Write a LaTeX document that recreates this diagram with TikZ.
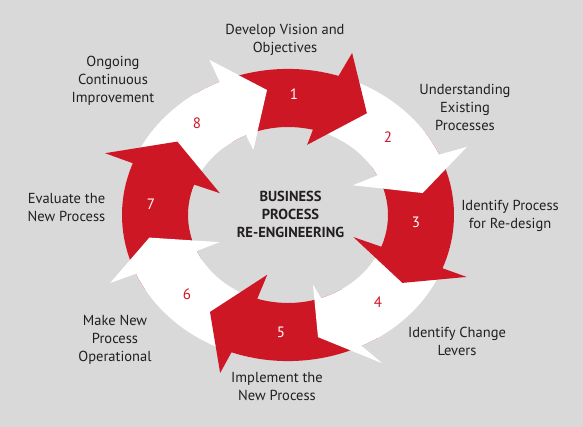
\documentclass[tikz,border=0pt]{standalone}
\usepackage{fontspec}
\setmainfont{PT Sans}
\definecolor{bprred}{RGB}{206,23,37}
\definecolor{bprgray}{RGB}{217,217,217}
\definecolor{bprtext}{RGB}{35,31,32}

\begin{document}
\begin{tikzpicture}[x=1pt, y=1pt,
    steplabel/.style={align=center, font=\fontsize{14.5}{18}\selectfont, text=bprtext, inner sep=0pt},
    stepnum/.style={font=\fontsize{15}{18}\selectfont, inner sep=0pt},
    title/.style={align=center, font=\fontsize{14.5}{18}\selectfont\bfseries, text=bprtext, inner sep=0pt}
]
\fill[bprgray] (-288,-212) rectangle (295,215);
\useasboundingbox (-288,-212) rectangle (295,215);

% ring of arrows, squeezed vertically; drawn 8 down to 1 so each head lies on the next tail
\begin{scope}[yscale=0.88]
\foreach \k/\ao/\ro/\ai/\ri/\at/\rt in {
    8/114/192.6/115/82/98.4/143.6,
    7/159/196/160/72.5/143/138.6,
    6/-156.5/194/-155.7/75/-169.5/141,
    5/-110.7/192/-107/71/-125.3/135,
    4/-60.8/193/-72.5/83/-77.8/142,
    3/-21.5/192/-21/70/-34/138,
    2/23.4/195/27.6/73/10.5/137,
    1/70.8/195/76.5/82/55.7/140} {
  \pgfmathsetmacro{\co}{\ao+(\ro-166)/(\ro-\ri)*(\ai-\ao)}
  \pgfmathsetmacro{\ci}{\ao+(\ro-100)/(\ro-\ri)*(\ai-\ao)}
  \pgfmathsetmacro{\tl}{\at+68}
  \pgfmathtruncatemacro{\odd}{mod(\k,2)}
  \ifnum\odd=1 \def\col{bprred}\else\def\col{white}\fi
  \fill[\col] (\tl:166) arc[start angle=\tl, end angle=\co, radius=166]
    -- (\ao:\ro) -- (\at:\rt) -- (\ai:\ri)
    -- (\ci:100) arc[start angle=\ci, end angle=\tl, radius=100] -- cycle;
}
% front part of arrow 8 again, over the tail of arrow 1
\fill[white] (130:166) arc[start angle=130, end angle=114.2, radius=166]
  -- (114:192.6) -- (98.4:143.6) -- (115:82)
  -- (114.6:100) arc[start angle=114.6, end angle=130, radius=100] -- cycle;
\end{scope}

\foreach \k/\nx/\ny in {1/6/121, 2/100/78, 3/128/-7, 4/90/-87,
                        5/-7/-117, 6/-101/-79, 7/-137/11, 8/-91/92} {
  \pgfmathtruncatemacro{\odd}{mod(\k,2)}
  \ifnum\odd=1 \def\numcol{white}\else\def\numcol{bprred}\fi
  \node[stepnum, text=\numcol] (num\k) at (\nx,\ny) {\k};
}

\node[title] (title) at (2.5,1) {BUSINESS\\PROCESS\\RE-ENGINEERING};

\node[steplabel] (step1) at (-3,175) {Develop Vision and\\Objectives};
\node[steplabel] (step2) at (177,108) {Understanding\\Existing\\Processes};
\node[steplabel] (step3) at (222,-1) {Identify Process\\for Re-design};
\node[steplabel] (step4) at (169,-126) {Identify Change\\Levers};
\node[steplabel] (step5) at (-11,-172) {Implement the\\New Process};
\node[steplabel] (step6) at (-173,-125) {Make New\\Process\\Operational};
\node[steplabel] (step7) at (-221.5,7) {Evaluate the\\New Process};
\node[steplabel] (step8) at (-175,134) {Ongoing\\Continuous\\Improvement};
\end{tikzpicture}
\end{document}
